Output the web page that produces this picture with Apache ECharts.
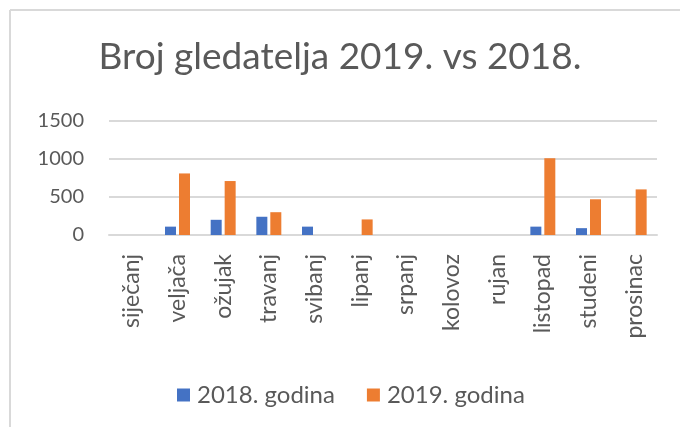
<!DOCTYPE html>
<html lang="hr">

<head>
    <meta charset="UTF-8">
    <title>Broj gledatelja</title>
    <script src="https://cdn.jsdelivr.net/npm/echarts@6.0.0/dist/echarts.min.js"></script>
    <style>
        body { margin: 0; background: #fff; }
    </style>
</head>

<body>
    <div id="main" style="width: 680px;height:427px;"></div>
    <script type="text/javascript">
        const months = ['siječanj', 'veljača', 'ožujak', 'travanj', 'svibanj', 'lipanj',
            'srpanj', 'kolovoz', 'rujan', 'listopad', 'studeni', 'prosinac'];
        const viewers2018 = [0, 110, 200, 240, 110, 0, 0, 0, 0, 110, 90, 0];
        const viewers2019 = [0, 810, 710, 300, 0, 205, 0, 0, 0, 1010, 470, 600];
        const yTicks = [0, 500, 1000, 1500];

        const textColor = '#595959';
        const font = 'Lato';

        let myChart = echarts.init(document.getElementById('main'));

        let options = {
            animation: false,
            textStyle: { fontFamily: font },
            title: {
                text: 'Broj gledatelja 2019. vs 2018.',
                left: 'center',
                top: 34,
                textStyle: { fontFamily: font, fontSize: 37, fontWeight: 'normal', color: textColor }
            },
            // only the top and left edges of the frame are visible
            graphic: [
                { type: 'line', shape: { x1: 10, y1: 10, x2: 680, y2: 10 }, style: { stroke: '#d9d9d9', lineWidth: 2 } },
                { type: 'line', shape: { x1: 10, y1: 10, x2: 10, y2: 427 }, style: { stroke: '#d9d9d9', lineWidth: 2 } }
            ],
            legend: {
                left: 172,
                top: 378,
                itemWidth: 13,
                itemHeight: 13,
                itemGap: 32,
                icon: 'rect',
                textStyle: { fontFamily: font, fontSize: 24, color: textColor, padding: [0, 0, 0, 2] }
            },
            grid: { left: 109, right: 23, top: 121, bottom: 192 },
            xAxis: {
                type: 'category',
                data: months,
                axisLine: { lineStyle: { color: '#d9d9d9', width: 2 } },
                axisTick: { show: false },
                axisLabel: { rotate: 90, margin: 19, fontSize: 23, color: textColor, interval: 0 }
            },
            yAxis: {
                type: 'value',
                min: yTicks[0],
                max: yTicks[yTicks.length - 1],
                interval: 500,
                axisLine: { show: false },
                axisTick: { show: false },
                axisLabel: { margin: 25, fontSize: 20, color: textColor, formatter: v => String(v) },
                splitLine: { lineStyle: { color: '#d9d9d9', width: 2 } }
            },
            series: [{
                name: '2018. godina',
                type: 'bar',
                data: viewers2018,
                barWidth: 11,
                barGap: '27%',
                itemStyle: { color: '#4472C4' }
            }, {
                name: '2019. godina',
                type: 'bar',
                data: viewers2019,
                barWidth: 11,
                itemStyle: { color: '#ED7D31' }
            }]
        };

        myChart.setOption(options);
    </script>
</body>

</html>
